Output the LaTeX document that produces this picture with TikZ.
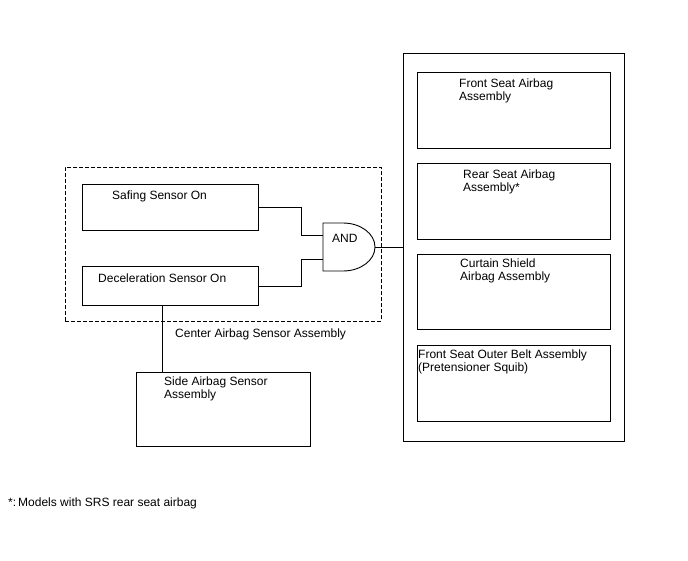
\documentclass[tikz,border=0pt]{standalone}
\usepackage{fontspec}
\setmainfont{Liberation Sans}
\begin{document}
\begin{tikzpicture}[x=1pt,y=-1pt,
  box/.style={draw, line width=0.9pt, rectangle, anchor=north west, inner sep=0pt},
  lbl/.style={anchor=base west, inner sep=0pt, align=left, font=\fontsize{12}{13.5}\selectfont},
  wire/.style={line width=0.9pt}]
\useasboundingbox (0,0) rectangle (688,560);
% center sensor assembly
\node[box, dash pattern=on 4pt off 2pt, minimum width=316pt, minimum height=154pt] (center) at (65,167) {};
\node[box, minimum width=176pt, minimum height=46pt] (saf) at (82,184) {};
\node[box, minimum width=176pt, minimum height=39pt] (dec) at (82,266) {};
\node[lbl] (saft) at (112,199) {Safing Sensor On};
\node[lbl] (dect) at (98,282) {Deceleration Sensor On};
\node[lbl] (ctrt) at (175,337) {Center Airbag Sensor Assembly};
% AND gate
\draw[wire] (323,223) -- (343,223) arc[start angle=-90, end angle=90, x radius=32, y radius=24] -- (323,271) -- cycle;
\node[lbl] (andt) at (332,242) {AND};
\coordinate (in1) at (323,235);
\coordinate (in2) at (323,259);
\coordinate (gout) at (375,247);
% side sensor
\node[box, minimum width=174pt, minimum height=74pt] (side) at (136,372) {};
\node[lbl] (sidet) at (164,398.5) {Side Airbag Sensor\\Assembly};
% right assembly
\node[box, minimum width=221pt, minimum height=388pt] (right) at (403,53) {};
\node[box, minimum width=193pt, minimum height=76pt] (fsa) at (417,72) {};
\node[box, minimum width=193pt, minimum height=76pt] (rsa) at (417,163) {};
\node[box, minimum width=193pt, minimum height=75pt] (csa) at (417,254) {};
\node[box, minimum width=193pt, minimum height=76pt] (fsb) at (417,345) {};
\node[lbl] (fsat) at (459,100.5) {Front Seat Airbag\\Assembly};
\node[lbl] (rsat) at (463,191.5) {Rear Seat Airbag\\Assembly*};
\node[lbl] (csat) at (460,280.5) {Curtain Shield\\Airbag Assembly};
\node[lbl] (fsbt) at (418,371.5) {Front Seat Outer Belt Assembly\\(Pretensioner Squib)};
% footnote
\node[lbl] (note) at (8,506) {*:\,Models with SRS rear seat airbag};
% connectors
\draw[wire] (saf.east) -- ++(43,0) |- (in1);
\draw[wire] (dec.east) -- ++(43,0) |- (in2);
\draw[wire] (gout) -- (gout -| right.west);
\coordinate (vx) at (162,0);
\draw[wire] (dec.south -| vx) -- (side.north -| vx);
\end{tikzpicture}
\end{document}
